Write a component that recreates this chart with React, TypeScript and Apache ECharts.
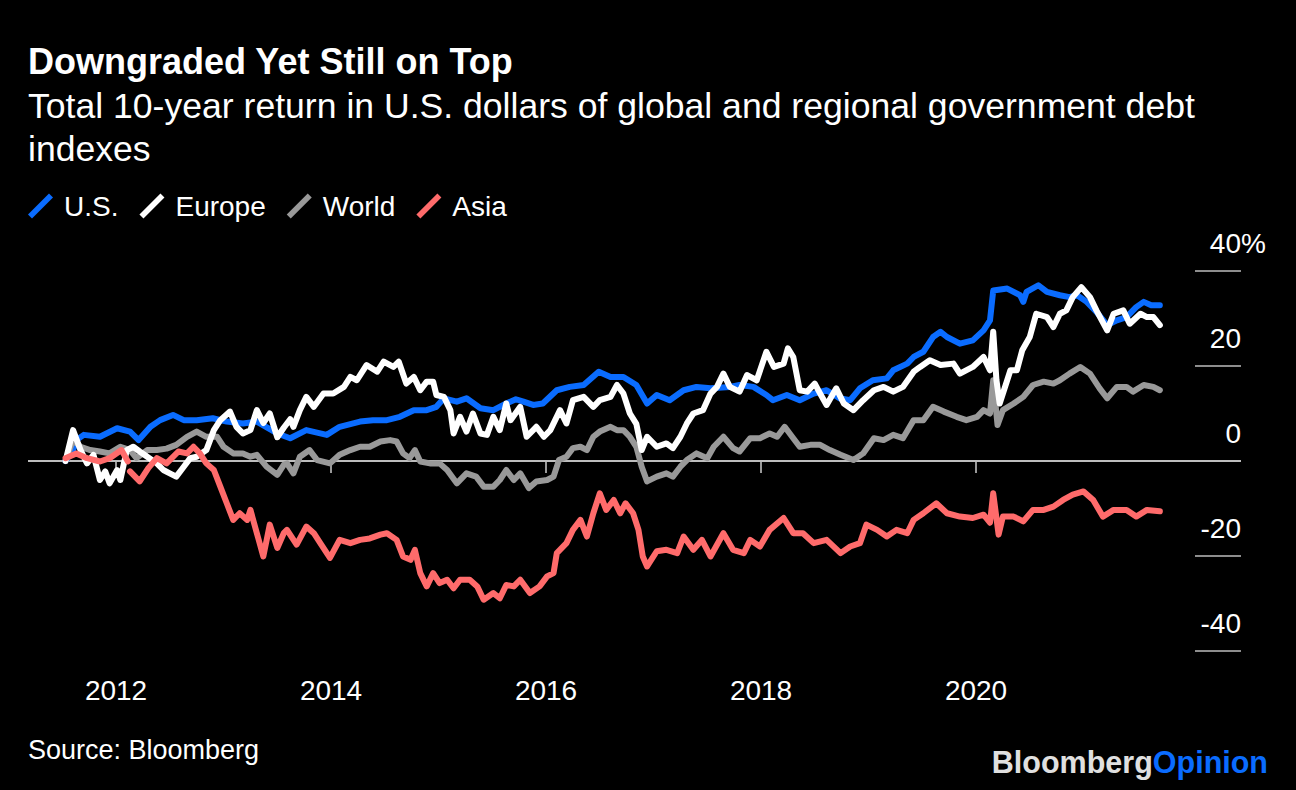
import React, { useEffect, useRef } from "react";
import * as echarts from "echarts";

const FONT = "'Liberation Sans', Arial, Helvetica, sans-serif";

const TITLE = "Downgraded Yet Still on Top";
const SUBTITLE = "Total 10-year return in U.S. dollars of global and regional government debt\nindexes";
const SOURCE = "Source: Bloomberg";
const YEAR_TICKS = [2012, 2014, 2016, 2018, 2020];
const Y_TICKS = { min: -40, max: 40, step: 20 };
const X_RANGE = { min: 2011.181, max: 2022.465 };

// [decimal year, total return %]
const US: [number, number][] = [
  [2011.53, 0], [2011.6, 2.3], [2011.63, 4.4], [2011.7, 5.5], [2011.85, 5.1], [2012.01, 6.9], [2012.13, 6.2],
  [2012.21, 4.4], [2012.32, 7.2], [2012.41, 8.6], [2012.53, 9.7], [2012.63, 8.6], [2012.75, 8.6], [2012.9, 9.0],
  [2013.03, 8.3], [2013.18, 7.9], [2013.31, 8.3], [2013.5, 5.8], [2013.62, 4.8], [2013.77, 6.5], [2013.96, 5.5],
  [2014.08, 7.2], [2014.27, 8.3], [2014.39, 8.6], [2014.52, 8.6], [2014.64, 9.3], [2014.77, 10.7], [2014.89, 10.7],
  [2014.98, 11.4], [2015.05, 13.2], [2015.17, 12.5], [2015.26, 13.2], [2015.39, 11.1], [2015.51, 10.7],
  [2015.63, 12.1], [2015.72, 13.0], [2015.79, 12.5], [2015.88, 11.8], [2015.97, 12.1], [2016.1, 14.9],
  [2016.22, 15.6], [2016.35, 16.0], [2016.49, 18.8], [2016.6, 17.7], [2016.72, 17.7], [2016.84, 16.0],
  [2016.94, 12.1], [2017.03, 13.9], [2017.15, 12.8], [2017.28, 14.9], [2017.4, 15.6], [2017.53, 15.3],
  [2017.71, 15.6], [2017.8, 16.0], [2017.93, 15.6], [2018.05, 13.9], [2018.11, 12.8], [2018.24, 13.9],
  [2018.36, 12.8], [2018.49, 14.2], [2018.61, 14.9], [2018.73, 13.2], [2018.83, 12.8], [2018.92, 15.3],
  [2019.04, 17.0], [2019.17, 17.4], [2019.23, 19.1], [2019.36, 20.5], [2019.42, 21.9], [2019.51, 23.0],
  [2019.6, 26.1], [2019.67, 27.2], [2019.73, 26.1], [2019.85, 24.7], [2019.97, 25.4], [2020.07, 27.5],
  [2020.13, 29.6], [2020.16, 35.9], [2020.29, 36.3], [2020.41, 34.9], [2020.44, 33.5], [2020.47, 35.6],
  [2020.58, 37.0], [2020.66, 35.6], [2020.78, 34.9], [2020.87, 34.5], [2020.94, 34.9], [2021.03, 33.5],
  [2021.12, 31.4], [2021.22, 28.6], [2021.31, 29.6], [2021.4, 30.3], [2021.49, 32.4], [2021.56, 33.5],
  [2021.63, 32.8], [2021.71, 32.8],
];

const EUROPE: [number, number][] = [
  [2011.53, 0], [2011.6, 6.5], [2011.67, 2.3], [2011.73, -0.5], [2011.79, 1.3], [2011.85, -4.0], [2011.9, -2.2],
  [2011.94, -4.7], [2012.01, -1.9], [2012.04, -4.0], [2012.1, 2.3], [2012.16, 3.0], [2012.22, 2.0], [2012.29, 0.9],
  [2012.38, -0.5], [2012.44, -1.9], [2012.5, -2.6], [2012.56, -3.3], [2012.63, -1.2], [2012.69, 0.6], [2012.75, 0.9],
  [2012.84, 2.3], [2012.91, 6.5], [2012.97, 8.6], [2013.06, 10.4], [2013.12, 7.2], [2013.18, 5.8], [2013.25, 6.5],
  [2013.31, 10.7], [2013.37, 8.0], [2013.43, 10.0], [2013.5, 5.0], [2013.56, 7.0], [2013.62, 8.8], [2013.65, 7.2],
  [2013.71, 10.7], [2013.77, 13.5], [2013.84, 11.4], [2013.93, 14.2], [2014.02, 14.2], [2014.12, 15.6],
  [2014.18, 17.7], [2014.24, 17.0], [2014.33, 20.2], [2014.43, 18.8], [2014.49, 20.9], [2014.58, 19.8],
  [2014.63, 20.9], [2014.7, 16.3], [2014.77, 17.7], [2014.83, 14.9], [2014.89, 16.7], [2014.95, 16.7],
  [2014.98, 13.9], [2015.05, 13.5], [2015.11, 10.7], [2015.14, 5.8], [2015.2, 9.3], [2015.26, 6.2], [2015.32, 10.0],
  [2015.39, 5.8], [2015.45, 5.5], [2015.51, 9.3], [2015.57, 6.5], [2015.63, 12.1], [2015.67, 8.6], [2015.76, 11.4],
  [2015.82, 5.1], [2015.91, 7.2], [2015.98, 5.1], [2016.04, 6.5], [2016.13, 10.7], [2016.19, 7.9], [2016.25, 12.8],
  [2016.35, 13.5], [2016.44, 11.4], [2016.5, 12.8], [2016.6, 13.5], [2016.66, 16.0], [2016.72, 14.2], [2016.78, 10.0],
  [2016.84, 7.8], [2016.89, 2.3], [2016.94, 5.1], [2017.03, 3.0], [2017.12, 3.7], [2017.18, 2.7], [2017.25, 5.1],
  [2017.31, 7.9], [2017.37, 10.0], [2017.46, 10.7], [2017.53, 14.2], [2017.59, 15.6], [2017.65, 18.4],
  [2017.71, 15.6], [2017.8, 14.6], [2017.87, 18.1], [2017.96, 17.0], [2018.05, 23.0], [2018.12, 19.8],
  [2018.21, 20.5], [2018.25, 23.7], [2018.3, 21.9], [2018.36, 14.9], [2018.43, 14.6], [2018.5, 16.3],
  [2018.55, 14.2], [2018.61, 11.8], [2018.7, 15.3], [2018.77, 12.1], [2018.86, 10.7], [2018.95, 12.8],
  [2019.05, 14.9], [2019.14, 15.6], [2019.23, 14.6], [2019.32, 15.6], [2019.42, 18.8], [2019.48, 19.8],
  [2019.57, 21.2], [2019.67, 20.2], [2019.79, 20.5], [2019.85, 18.4], [2019.97, 19.8], [2020.07, 21.9],
  [2020.13, 19.1], [2020.16, 27.2], [2020.19, 17.0], [2020.22, 12.1], [2020.29, 17.0], [2020.32, 19.1],
  [2020.38, 19.1], [2020.43, 23.3], [2020.5, 26.1], [2020.56, 31.0], [2020.66, 30.3], [2020.72, 28.2],
  [2020.78, 31.0], [2020.84, 31.7], [2020.9, 34.5], [2020.98, 36.6], [2021.06, 34.5], [2021.12, 31.7],
  [2021.22, 27.5], [2021.28, 31.0], [2021.37, 31.7], [2021.43, 28.9], [2021.53, 31.0], [2021.59, 30.3],
  [2021.65, 30.3], [2021.71, 28.6],
];

const WORLD: [number, number][] = [
  [2011.53, 0], [2011.6, 4.4], [2011.67, 3.0], [2011.76, 2.3], [2011.85, 2.0], [2011.94, 1.6], [2012.04, 3.0],
  [2012.13, 2.3], [2012.19, 0.6], [2012.29, 2.3], [2012.38, 2.3], [2012.47, 2.6], [2012.56, 3.4], [2012.66, 5.1],
  [2012.75, 6.2], [2012.84, 5.1], [2012.94, 5.1], [2013.0, 3.0], [2013.09, 1.6], [2013.18, 1.6], [2013.25, 0.9],
  [2013.31, 1.3], [2013.4, -1.2], [2013.5, -2.9], [2013.56, -0.8], [2013.59, -0.5], [2013.65, -2.6], [2013.71, 0.9],
  [2013.8, 2.3], [2013.87, 0.2], [2013.99, -0.5], [2014.08, 1.3], [2014.18, 2.3], [2014.27, 3.0], [2014.36, 3.0],
  [2014.46, 4.1], [2014.55, 4.4], [2014.61, 4.1], [2014.67, 1.6], [2014.73, 0.6], [2014.78, 2.3], [2014.83, -0.1],
  [2014.92, -0.5], [2015.01, -0.5], [2015.08, -1.9], [2015.17, -4.7], [2015.26, -2.6], [2015.35, -3.3],
  [2015.42, -5.4], [2015.51, -5.4], [2015.57, -4.0], [2015.63, -1.9], [2015.7, -4.0], [2015.76, -2.6],
  [2015.84, -5.7], [2015.91, -4.3], [2016.01, -4.0], [2016.07, -3.3], [2016.12, 0.2], [2016.19, 0.9],
  [2016.25, 2.7], [2016.32, 3.0], [2016.38, 2.3], [2016.44, 5.1], [2016.5, 6.2], [2016.6, 7.2], [2016.66, 6.5],
  [2016.72, 6.5], [2016.78, 5.1], [2016.84, 3.0], [2016.89, -1.2], [2016.94, -4.3], [2017.03, -3.3],
  [2017.12, -2.6], [2017.18, -3.3], [2017.25, -1.2], [2017.31, 0.2], [2017.4, 1.6], [2017.5, 0.6], [2017.56, 3.0],
  [2017.65, 5.1], [2017.74, 2.7], [2017.8, 2.0], [2017.9, 4.8], [2017.99, 4.8], [2018.08, 5.8], [2018.15, 5.1],
  [2018.22, 7.2], [2018.3, 4.8], [2018.36, 3.0], [2018.46, 3.4], [2018.55, 3.4], [2018.64, 2.3], [2018.74, 1.3],
  [2018.86, 0.2], [2018.95, 1.6], [2019.05, 4.8], [2019.14, 4.4], [2019.23, 5.5], [2019.32, 4.8], [2019.42, 8.6],
  [2019.51, 8.6], [2019.6, 11.4], [2019.7, 10.4], [2019.82, 9.3], [2019.91, 8.6], [2020.01, 9.3], [2020.07, 10.7],
  [2020.13, 10.0], [2020.16, 17.0], [2020.2, 7.6], [2020.25, 10.7], [2020.35, 12.1], [2020.44, 13.5],
  [2020.53, 16.0], [2020.63, 16.7], [2020.72, 16.3], [2020.78, 17.0], [2020.87, 18.4], [2020.97, 19.8],
  [2021.06, 18.4], [2021.15, 15.3], [2021.22, 13.2], [2021.31, 15.6], [2021.4, 15.6], [2021.46, 14.6],
  [2021.56, 16.0], [2021.65, 15.6], [2021.71, 14.9],
];

const ASIA: [number, number | null][] = [
  [2011.53, 0.6], [2011.63, 1.6], [2011.73, 0.6], [2011.85, -0.1], [2011.94, 0.6], [2012.05, 2.3], [2012.11, -0.1],
  [2012.12, null], [2012.13, -2.2], [2012.22, -4.3], [2012.3, -1.5], [2012.38, 0.6], [2012.47, -0.5], [2012.58, 2.0],
  [2012.66, 1.6], [2012.72, 3.0], [2012.78, 1.6], [2012.84, -0.5], [2012.91, -1.9], [2012.97, -5.4], [2013.03, -8.9],
  [2013.09, -12.4], [2013.15, -11.0], [2013.22, -12.4], [2013.25, -10.3], [2013.31, -15.2], [2013.37, -20.1],
  [2013.43, -13.4], [2013.5, -18.3], [2013.56, -15.2], [2013.59, -14.5], [2013.68, -17.6], [2013.77, -13.8],
  [2013.84, -15.2], [2013.9, -17.3], [2013.99, -20.4], [2014.08, -16.6], [2014.18, -17.3], [2014.27, -16.6],
  [2014.36, -16.3], [2014.46, -15.5], [2014.52, -15.2], [2014.61, -16.6], [2014.67, -20.1], [2014.74, -20.8],
  [2014.78, -18.7], [2014.83, -23.6], [2014.89, -26.4], [2014.95, -23.6], [2015.01, -25.7], [2015.08, -25.0],
  [2015.14, -26.8], [2015.2, -25.0], [2015.29, -25.0], [2015.36, -26.4], [2015.42, -29.2], [2015.51, -27.8],
  [2015.57, -28.9], [2015.63, -26.1], [2015.7, -26.4], [2015.76, -25.0], [2015.85, -27.8], [2015.94, -26.4],
  [2016.01, -24.3], [2016.07, -23.6], [2016.1, -19.4], [2016.19, -17.3], [2016.25, -14.5], [2016.32, -12.4],
  [2016.38, -15.9], [2016.44, -11.0], [2016.5, -6.8], [2016.56, -10.3], [2016.63, -8.2], [2016.69, -11.0],
  [2016.74, -8.9], [2016.81, -11.0], [2016.86, -14.5], [2016.9, -20.1], [2016.94, -22.2], [2017.03, -19.0],
  [2017.12, -18.7], [2017.22, -19.4], [2017.28, -15.9], [2017.37, -18.7], [2017.45, -16.6], [2017.53, -20.1],
  [2017.65, -15.2], [2017.74, -18.7], [2017.84, -19.4], [2017.9, -16.6], [2017.99, -18.0], [2018.08, -14.5],
  [2018.21, -12.0], [2018.3, -15.2], [2018.39, -15.2], [2018.49, -17.3], [2018.61, -16.6], [2018.74, -19.4],
  [2018.83, -18.0], [2018.92, -17.3], [2018.98, -13.4], [2019.08, -14.5], [2019.17, -15.9], [2019.26, -14.5],
  [2019.36, -15.2], [2019.42, -12.4], [2019.51, -11.0], [2019.63, -8.9], [2019.73, -11.0], [2019.85, -11.7],
  [2019.97, -12.0], [2020.07, -11.3], [2020.13, -13.0], [2020.16, -6.8], [2020.21, -15.5], [2020.25, -11.7],
  [2020.35, -11.7], [2020.44, -12.7], [2020.53, -10.3], [2020.63, -10.3], [2020.72, -9.6], [2020.81, -8.2],
  [2020.9, -7.1], [2021.0, -6.4], [2021.09, -8.2], [2021.18, -11.7], [2021.28, -10.3], [2021.4, -10.3],
  [2021.49, -11.7], [2021.59, -10.3], [2021.71, -10.6],
];

const SERIES_NAMES = ["U.S.", "Europe", "World", "Asia"];
const COLORS: Record<string, string> = {
  "U.S.": "#0a6cff",
  Europe: "#ffffff",
  World: "#999999",
  Asia: "#ff6b6b",
};

const LEGEND_ICON = "path://M0,21L21,0L25,4L4,25Z";

export default function App() {
  const ref = useRef<HTMLDivElement>(null);

  useEffect(() => {
    if (!ref.current) return;
    const chart = echarts.init(ref.current, undefined, { renderer: "svg" });

    const mk = (name: string, data: [number, number | null][], z: number, withZero = false) => ({
      name,
      type: "line",
      data: data.map(([x, y]) => [x, y === null ? "-" : y]),
      showSymbol: false,
      symbol: "none",
      connectNulls: false,
      color: COLORS[name],
      itemStyle: { color: COLORS[name] },
      lineStyle: { color: COLORS[name], width: 6, cap: "round", join: "round" },
      z,
      silent: true,
      markLine: withZero
        ? {
            silent: true,
            symbol: "none",
            label: { show: false },
            lineStyle: { color: "#bdbdbd", width: 2, type: "solid" },
            data: [{ yAxis: 0 }],
            z: 1,
          }
        : undefined,
    });

    chart.setOption({
      animation: false,
      backgroundColor: "#000000",
      textStyle: { fontFamily: FONT },
      title: [
        {
          text: TITLE,
          subtext: SUBTITLE,
          left: 28,
          top: 44,
          padding: 0,
          itemGap: 4,
          textStyle: { color: "#ffffff", fontSize: 36, fontWeight: "bold", fontFamily: FONT, lineHeight: 34 },
          subtextStyle: { color: "#ffffff", fontSize: 35.6, fontFamily: FONT, lineHeight: 43 },
        },
        {
          text: SOURCE,
          left: 28,
          top: 736,
          padding: 0,
          textStyle: { color: "#ffffff", fontSize: 27, fontWeight: "normal", fontFamily: FONT, lineHeight: 28 },
        },
      ],
      legend: {
        data: SERIES_NAMES,
        left: 28,
        top: 192,
        padding: 0,
        icon: LEGEND_ICON,
        itemWidth: 25,
        itemHeight: 25,
        itemGap: 21,
        selectedMode: false,
        textStyle: { color: "#ffffff", fontSize: 28, fontFamily: FONT, padding: [0, 0, 0, 6] },
      },
      grid: { left: 28, right: 55, top: 271, bottom: 139, containLabel: false },
      xAxis: {
        type: "value",
        min: X_RANGE.min,
        max: X_RANGE.max,
        axisLine: { show: false },
        splitLine: { show: false },
        axisTick: {
          show: true,
          length: 12,
          customValues: YEAR_TICKS,
          lineStyle: { color: "#cccccc", width: 1.5 },
        },
        axisLabel: {
          customValues: YEAR_TICKS,
          color: "#ffffff",
          fontSize: 28,
          fontFamily: FONT,
          margin: 25,
          formatter: (v: number) => String(Math.round(v)),
        },
      },
      yAxis: {
        type: "value",
        position: "right",
        min: Y_TICKS.min,
        max: Y_TICKS.max,
        interval: Y_TICKS.step,
        name: "%",
        nameLocation: "end",
        nameGap: 28,
        nameMoveOverlap: false,
        nameTextStyle: { color: "#ffffff", fontSize: 28, fontFamily: FONT, align: "left", verticalAlign: "middle" },
        axisLine: { show: false },
        splitLine: { show: false },
        axisTick: { show: true, inside: true, length: 46, lineStyle: { color: "#bdbdbd", width: 1.5 } },
        axisLabel: {
          inside: true,
          margin: 0,
          color: "#ffffff",
          fontSize: 28,
          fontFamily: FONT,
          verticalAlign: "bottom",
          lineHeight: 28,
          padding: [0, 0, 14, 0],
        },
      },
      graphic: [
        {
          type: "text",
          right: 28,
          top: 746,
          style: {
            text: "{a|Bloomberg}{b|Opinion}",
            rich: {
              a: { fill: "#e0e0e0", fontSize: 30.5, fontWeight: "bold", fontFamily: FONT },
              b: { fill: "#0a6cff", fontSize: 30.5, fontWeight: "bold", fontFamily: FONT },
            },
          },
        },
      ],
      series: [
        mk("U.S.", US, 2, true),
        mk("World", WORLD, 3),
        mk("Europe", EUROPE, 4),
        mk("Asia", ASIA, 5),
      ],
    });

    return () => chart.dispose();
  }, []);

  return (
    <div
      ref={ref}
      style={{ position: "absolute", left: 0, top: 0, width: 1296, height: 790, background: "#000" }}
    />
  );
}
